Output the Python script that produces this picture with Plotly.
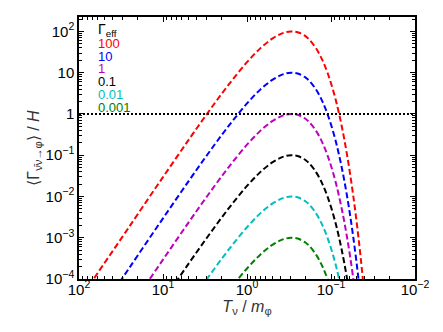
import plotly.graph_objects as go

# temperature over mediator mass, T_nu / m_phi
t_over_m = [100, 50, 30, 20, 10, 5, 3, 2, 1.5, 1, 0.7, 0.5, 0.4, 0.35, 0.3, 0.25,
            0.2, 0.18, 0.15, 0.13, 0.12, 0.11, 0.1, 0.09, 0.085, 0.08, 0.075, 0.07,
            0.065, 0.06, 0.055, 0.05, 0.045, 0.04]
# common curve shape (log10 of rate/H over Gamma_eff)
shape_log = [-6.52, -5.62, -4.96, -4.43, -3.53, -2.64, -2.00, -1.51, -1.18, -0.745,
             -0.416, -0.174, -0.064, -0.022, 0.0, -0.020, -0.121, -0.205, -0.415,
             -0.646, -0.804, -1.002, -1.254, -1.577, -1.775, -2.003, -2.267, -2.577,
             -2.943, -3.381, -3.905, -4.550, -5.356, -6.384]

gamma_eff = [100, 10, 1, 0.1, 0.01, 0.001]
labels = ['100', '10', '1', '0.1', '0.01', '0.001']
colors = ['#ff0000', '#0000ff', '#bf00bf', '#000000', '#00bfbf', '#008000']

fig = go.Figure()
for g, c in zip(gamma_eff, colors):
    fig.add_trace(go.Scatter(
        x=t_over_m, y=[g * 10 ** s for s in shape_log], mode='lines',
        line=dict(color=c, width=2, dash='6px,3px', shape='spline'),
        showlegend=False))

# H = rate line
fig.add_trace(go.Scatter(x=[100, 0.01], y=[1, 1], mode='lines',
                         line=dict(color='black', width=2, dash='2px,2px'),
                         showlegend=False))

# legend written as coloured text
fig.add_annotation(x=0.05, y=0.95, xref='paper', yref='paper', xanchor='left',
                   yanchor='middle', showarrow=False, text='Γ<sub>eff</sub>',
                   font=dict(size=14, color='black'))
for i, (lab, c) in enumerate(zip(labels, colors)):
    fig.add_annotation(x=0.05, y=0.9 - i * 0.0492, xref='paper', yref='paper',
                       xanchor='left', yanchor='middle', showarrow=False,
                       text=lab, font=dict(size=13, color=c))

axis_style = dict(showline=True, linecolor='black', linewidth=1.5, mirror='ticks',
                  ticks='inside', ticklen=5, tickwidth=1, tickcolor='black',
                  showgrid=False, zeroline=False, automargin=False,
                  tickfont=dict(size=15, color='black'),
                  minor=dict(ticks='inside', ticklen=3, tickcolor='black', dtick='D1',
                             showgrid=False))

fig.update_xaxes(type='log', range=[2, -2],
                 tickvals=[100, 10, 1, 0.1, 0.01],
                 ticktext=['10<sup>2</sup>', '10<sup>1</sup>', '10<sup>0</sup>',
                           '10<sup>−1</sup>', '10<sup>−2</sup>'],
                 ticklabelstandoff=-4,
                 title=dict(text='<i>T</i><sub>ν</sub> / <i>m</i><sub>φ</sub>',
                            font=dict(size=16, color='#333'), standoff=0),
                 **axis_style)
fig.update_yaxes(type='log', range=[-4, 2.35],
                 tickvals=[100, 10, 1, 0.1, 0.01, 0.001, 0.0001],
                 ticktext=['10<sup>2</sup>', '10', '1', '10<sup>−1</sup>',
                           '10<sup>−2</sup>', '10<sup>−3</sup>', '10<sup>−4</sup>'],
                 title=dict(text='⟨Γ<sub>ν̄ν→φ</sub>⟩ / <i>H</i>',
                            font=dict(size=16, color='#333'), standoff=2),
                 **axis_style)

# the page body adds an 8px offset, so the figure is 8px smaller
fig.update_layout(width=435, height=324, margin=dict(l=71, r=28, t=9, b=53),
                  paper_bgcolor='white', plot_bgcolor='white',
                  font=dict(family='Liberation Sans, Arial, sans-serif'))

fig.write_html('out.html')
